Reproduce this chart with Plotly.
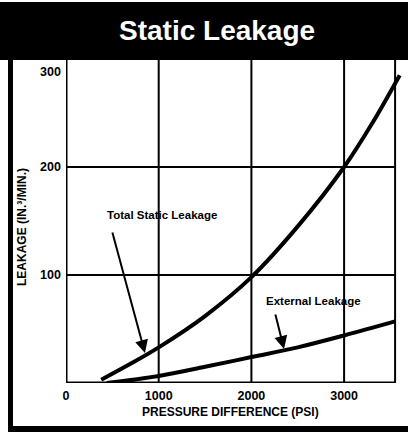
import plotly.graph_objects as go

# ---- data ----
total_x = [380, 700, 1000, 1500, 2000, 2500, 3000, 3300, 3600]
total_y = [3, 18, 33, 62, 98, 145, 200, 240, 285]
ext_x = [440, 1000, 1500, 2000, 2500, 3000, 3550]
ext_y = [0, 6.5, 15, 24, 33, 44, 57]
x_ticks = [0, 1000, 2000, 3000]
x_tick_labels = ["0", "1000", "2000", "3000"]
y_ticks = [100, 200, 300]
y_tick_labels = ["100", "200", "300"]
x_max_border = 3550
y_max_border = 300

FONT = "Liberation Sans, Arial, sans-serif"
W, H = 408, 432
L, R, T, B = 66, 4, 59, 49
pw, ph = W - L - R, H - T - B


def px2paper_x(px):
    return (px - L) / pw


def px2paper_y(py):
    return (H - B - py) / ph


fig = go.Figure()
fig.add_trace(go.Scatter(x=total_x, y=total_y, mode="lines",
                         line=dict(color="black", width=4, shape="spline"),
                         hoverinfo="skip", showlegend=False))
fig.add_trace(go.Scatter(x=ext_x, y=ext_y, mode="lines",
                         line=dict(color="black", width=4, shape="spline"),
                         hoverinfo="skip", showlegend=False))

shapes = []
# grid lines
for xv in x_ticks[1:]:
    shapes.append(dict(type="line", xref="x", yref="y", x0=xv, x1=xv, y0=0, y1=y_max_border,
                       line=dict(color="black", width=2), layer="below"))
for yv in y_ticks:
    shapes.append(dict(type="line", xref="x", yref="y", x0=0, x1=x_max_border, y0=yv, y1=yv,
                       line=dict(color="black", width=2), layer="below"))
# plot border
shapes.append(dict(type="line", xref="x", yref="y", x0=x_max_border, x1=x_max_border, y0=0, y1=y_max_border,
                   line=dict(color="black", width=2), layer="below"))
shapes.append(dict(type="line", xref="x", yref="y", x0=0, x1=0, y0=0, y1=y_max_border,
                   line=dict(color="black", width=3), layer="below"))
shapes.append(dict(type="line", xref="x", yref="y", x0=0, x1=x_max_border, y0=0, y1=0,
                   line=dict(color="black", width=3), layer="below"))
# title band
shapes.append(dict(type="rect", xref="paper", yref="paper",
                   x0=px2paper_x(0), x1=px2paper_x(W), y0=px2paper_y(60), y1=px2paper_y(2),
                   fillcolor="black", line=dict(width=0), layer="above"))
# outer frame left & bottom
shapes.append(dict(type="line", xref="paper", yref="paper",
                   x0=px2paper_x(10.5), x1=px2paper_x(10.5), y0=px2paper_y(60), y1=px2paper_y(432),
                   line=dict(color="black", width=5)))
shapes.append(dict(type="line", xref="paper", yref="paper",
                   x0=px2paper_x(8), x1=px2paper_x(W), y0=px2paper_y(429), y1=px2paper_y(429),
                   line=dict(color="black", width=6)))

annotations = []
# title
annotations.append(dict(text="Static Leakage", xref="paper", yref="paper",
                        x=px2paper_x(217), y=px2paper_y(30), xanchor="center", yanchor="middle",
                        showarrow=False, font=dict(family=FONT, size=28, color="white", weight="bold")))
# y tick labels
for yv, lab in zip(y_ticks, y_tick_labels):
    annotations.append(dict(text=lab, xref="paper", yref="y", x=0, y=yv, xanchor="right",
                            yanchor="middle", xshift=-3, yshift=(-13 if yv == y_max_border else 0),
                            showarrow=False, font=dict(family=FONT, size=12.5, color="black", weight="bold")))
# axis titles
annotations.append(dict(text="LEAKAGE (IN.³/MIN.)", xref="paper", yref="paper",
                        x=px2paper_x(22), y=px2paper_y(227), textangle=-90,
                        xanchor="center", yanchor="middle", showarrow=False,
                        font=dict(family=FONT, size=12, color="black", weight="bold")))
annotations.append(dict(text="PRESSURE DIFFERENCE (PSI)", xref="paper", yref="paper",
                        x=px2paper_x(230), y=px2paper_y(412),
                        xanchor="center", yanchor="middle", showarrow=False,
                        font=dict(family=FONT, size=12, color="black", weight="bold")))
# series labels
annotations.append(dict(text="Total Static Leakage", xref="x", yref="y", x=1036, y=155.6,
                        xanchor="center", yanchor="middle", showarrow=False,
                        font=dict(family=FONT, size=11.5, color="black", weight="bold")))
annotations.append(dict(text="External Leakage", xref="x", yref="y", x=2670, y=76,
                        xanchor="center", yanchor="middle", showarrow=False,
                        font=dict(family=FONT, size=11.5, color="black", weight="bold")))
# arrows
annotations.append(dict(text="", xref="x", yref="y", x=852, y=27.8, ax=-33, ay=-122,
                        showarrow=True, arrowhead=2, arrowsize=1.3, arrowwidth=2, arrowcolor="black"))
annotations.append(dict(text="", xref="x", yref="y", x=2352, y=31.5, ax=-9, ay=-36,
                        showarrow=True, arrowhead=2, arrowsize=1.3, arrowwidth=2, arrowcolor="black"))

fig.update_layout(
    width=W, height=H,
    margin=dict(l=L, r=R, t=T, b=B),
    paper_bgcolor="white", plot_bgcolor="white",
    shapes=shapes, annotations=annotations,
    xaxis=dict(range=[0, pw / 0.0927], tickvals=x_ticks, ticktext=x_tick_labels,
               showgrid=False, zeroline=False, showline=False, ticks="",
               tickfont=dict(family=FONT, size=12.5, color="black", weight="bold"),
               ticklabelstandoff=3, fixedrange=True),
    yaxis=dict(range=[0, 300], showgrid=False, zeroline=False, showline=False,
               showticklabels=False, ticks="", fixedrange=True),
    showlegend=False,
)

fig.write_html("out.html", config={"displayModeBar": False},
               post_script="document.body.style.margin='0';document.body.style.overflow='hidden';")
